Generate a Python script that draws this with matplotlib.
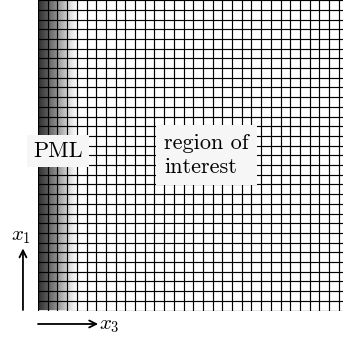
import numpy as np
import matplotlib.pyplot as plt
from matplotlib.colors import LinearSegmentedColormap

# Mesh size (cells) and the absorbing layer on the left side
n_cols = 32
n_rows = 32
pml_cells = 4

# Gray level of the absorbing layer at each cell boundary (0 = black, 1 = white)
pml_shade = [0.18, 0.36, 0.58, 0.82, 1.0]

plt.rcParams['mathtext.fontset'] = 'cm'

fig = plt.figure(figsize=(3.43, 3.39), dpi=100)
ax = fig.add_axes([38 / 343, 28.5 / 339, 310.4 / 343, 310.4 / 339])
ax.set_xlim(0, n_cols)
ax.set_ylim(0, n_rows)
ax.axis('off')

# PML shading: gray ramp from dark at the boundary to white at the interface
stops = [(i / pml_cells, (s, s, s)) for i, s in enumerate(pml_shade)]
cmap = LinearSegmentedColormap.from_list('pml', stops)
ramp = np.linspace(0, 1, 200)[None, :]
ax.imshow(ramp, cmap=cmap, vmin=0, vmax=1, aspect='auto',
          extent=[0, pml_cells, 0, n_rows], interpolation='bilinear', zorder=0)

# computational mesh
ax.vlines(np.arange(n_cols + 1), 0, n_rows, colors='black', linewidth=0.85, zorder=1)
ax.hlines(np.arange(n_rows + 1), 0, n_cols, colors='black', linewidth=0.85, zorder=1)

ax.text(2.06, 16.44, 'PML', fontsize=16, family='cmr10', ha='center', va='center',
        bbox=dict(boxstyle='square,pad=0.3', facecolor='#f6f6f6', edgecolor='none'),
        zorder=3)
ax.text(17.37, 16.03, 'region of\ninterest', fontsize=16, family='cmr10',
        ha='center', va='center', multialignment='left', linespacing=1.3,
        bbox=dict(boxstyle='square,pad=0.38', facecolor='#f6f6f6', edgecolor='none'),
        zorder=3)

# coordinate arrows
arrow = dict(arrowstyle='->,head_length=0.5,head_width=0.25', color='black', lw=1.3,
             shrinkA=0, shrinkB=0)
ax.annotate('', xy=(-1.55, 6.4), xytext=(-1.55, 0.05), arrowprops=arrow,
            annotation_clip=False)
ax.annotate('', xy=(6.2, -1.39), xytext=(0.0, -1.39), arrowprops=arrow,
            annotation_clip=False)
ax.text(-1.75, 7.7, r'$x_1$', fontsize=15, ha='center', va='center', clip_on=False)
ax.text(6.3, -1.45, r'$x_3$', fontsize=15, ha='left', va='center', clip_on=False)

fig.savefig('out.png', dpi=100)
